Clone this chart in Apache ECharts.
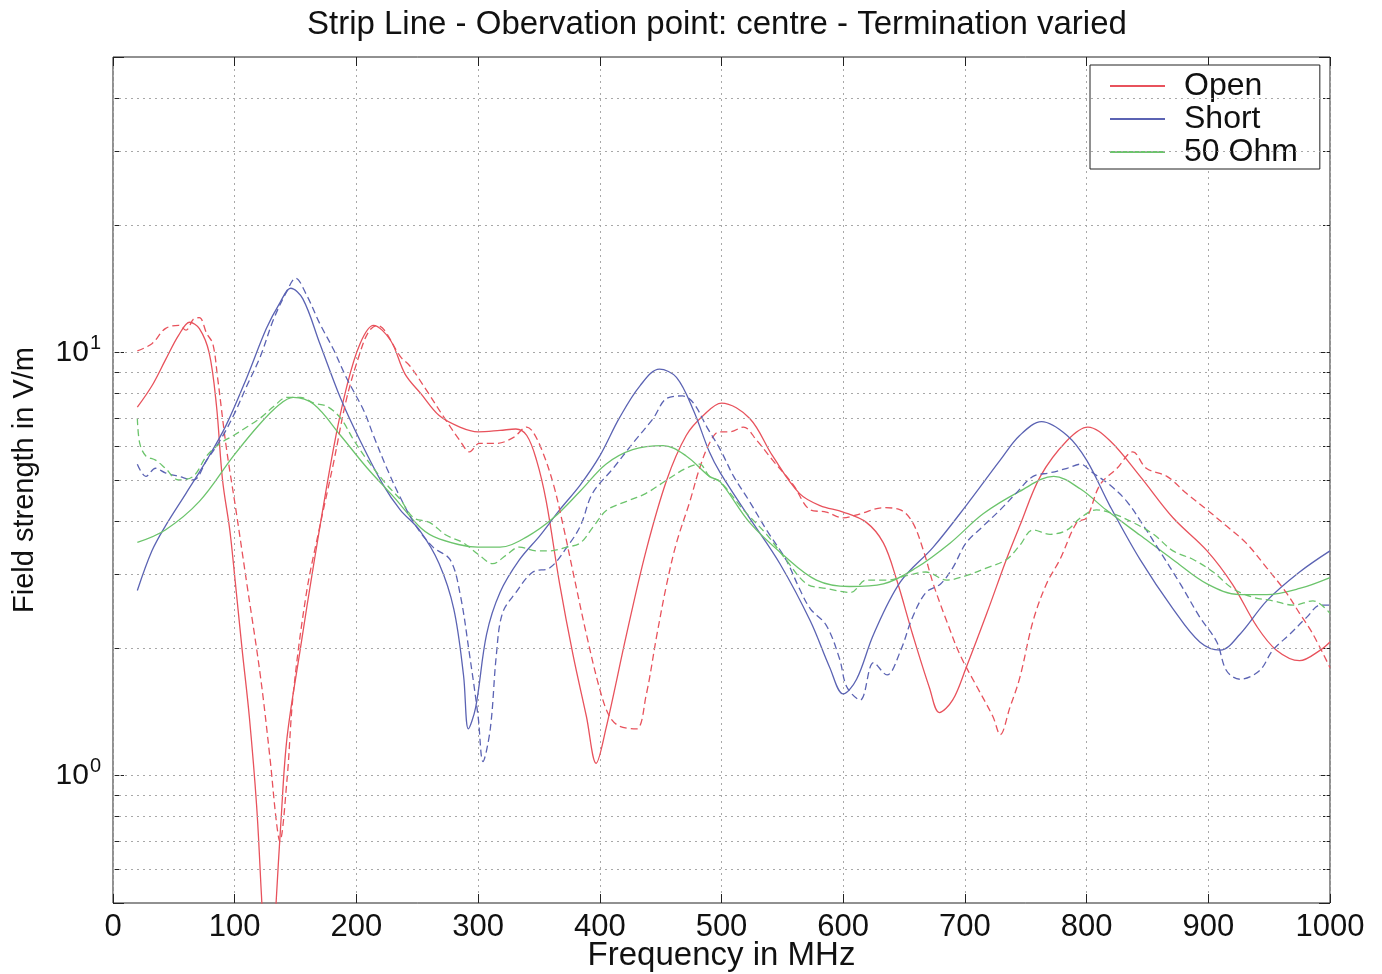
<!DOCTYPE html>
<html>
<head>
<meta charset="utf-8">
<script src="https://cdn.jsdelivr.net/npm/echarts@6/dist/echarts.min.js"></script>
<style>
  html, body { margin: 0; padding: 0; background: #fff; }
  #chart { width: 1382px; height: 974px; }
</style>
</head>
<body>
<div id="chart"></div>
<script>
// frequency (MHz), field strength (V/m)
const openSolid = [[20,7.43],[32,8.35],[43,9.6],[54,11.0],[63,11.8],[71,11.4],[79,10.0],[85,7.5],[90,5.0],[96,3.8],[100,2.96],[106,2.0],[112,1.38],[118,0.85],[122,0.52],[128,0.25],[134,0.5],[138,0.78],[143,1.23],[154,2.0],[165,3.17],[181,5.9],[192,8.3],[203,10.5],[214,11.6],[228,10.7],[240,8.9],[253,8.0],[268,7.1],[285,6.67],[300,6.5],[318,6.55],[331,6.6],[340,6.37],[348,5.57],[356,4.45],[367,2.84],[378,1.93],[389,1.38],[397,1.07],[405,1.29],[422,2.16],[438,3.4],[455,5.0],[471,6.37],[485,7.1],[500,7.6],[523,7.0],[542,5.7],[564,4.65],[581,4.35],[600,4.2],[619,3.97],[633,3.55],[644,2.9],[657,2.16],[671,1.61],[679,1.41],[690,1.51],[701,1.8],[718,2.42],[734,3.24],[745,3.89],[762,5.1],[784,6.2],[801,6.67],[819,6.2],[844,5.1],[871,4.07],[899,3.4],[920,2.83],[940,2.25],[956,1.98],[975,1.87],[992,1.98],[1000,2.07]];

const shortSolid = [[20,2.74],[32,3.4],[43,3.89],[60,4.65],[77,5.57],[93,6.74],[110,8.74],[126,11.4],[137,13.1],[146,14.2],[156,13.4],[170,10.5],[187,7.8],[203,6.2],[222,4.87],[236,4.25],[252,3.8],[268,3.17],[280,2.48],[288,1.73],[292,1.29],[298,1.45],[307,2.16],[318,2.71],[334,3.24],[351,3.7],[367,4.25],[384,4.87],[400,5.7],[416,7.0],[433,8.35],[449,9.14],[463,8.74],[477,7.3],[490,5.83],[499,5.2],[523,4.07],[548,3.17],[573,2.32],[589,1.8],[600,1.56],[611,1.69],[625,2.16],[647,2.87],[674,3.47],[701,4.35],[729,5.57],[745,6.37],[763,6.87],[784,6.37],[800,5.57],[819,4.35],[844,3.24],[871,2.48],[893,2.07],[910,1.98],[926,2.16],[948,2.59],[975,3.03],[1000,3.4]];

const ohmSolid = [[20,3.56],[43,3.81],[71,4.45],[99,5.7],[121,6.8],[137,7.55],[148,7.84],[165,7.55],[187,6.37],[209,5.33],[231,4.55],[253,3.85],[268,3.63],[300,3.47],[318,3.47],[340,3.67],[362,4.07],[384,4.71],[405,5.45],[427,5.9],[452,6.03],[471,5.7],[490,5.1],[499,4.95],[523,3.97],[551,3.32],[578,2.9],[605,2.8],[633,2.84],[660,3.1],[688,3.55],[715,4.16],[745,4.7],[773,5.1],[795,4.76],[816,4.25],[844,3.7],[871,3.24],[899,2.84],[926,2.68],[948,2.68],[975,2.77],[1000,2.94]];

const openDashed = [[20,10.1],[32,10.5],[43,11.4],[54,11.6],[60,11.3],[66,12.0],[71,12.1],[77,11.1],[82,10.5],[86,8.7],[93,6.0],[101,4.25],[110,2.84],[121,1.73],[129,1.1],[134,0.79],[137,0.7],[143,0.98],[148,1.55],[159,2.71],[170,3.89],[181,5.45],[192,7.8],[203,10.0],[210,11.2],[217,11.6],[223,11.3],[236,9.8],[244,9.3],[257,8.2],[271,7.1],[285,6.2],[293,5.83],[301,6.1],[315,6.1],[329,6.3],[340,6.67],[345,6.5],[353,5.83],[362,4.87],[370,3.89],[378,3.03],[389,2.16],[400,1.6],[408,1.38],[416,1.31],[430,1.29],[438,1.545],[447,2.16],[455,2.84],[463,3.55],[474,4.45],[482,5.33],[490,6.1],[498,6.5],[507,6.5],[518,6.67],[529,6.2],[542,5.57],[559,4.87],[573,4.25],[586,4.2],[600,4.07],[614,4.16],[633,4.3],[647,4.25],[657,3.97],[666,3.4],[674,2.84],[685,2.32],[696,1.93],[710,1.62],[723,1.38],[729,1.25],[737,1.45],[745,1.7],[756,2.32],[767,2.84],[778,3.24],[792,3.97],[800,4.07],[811,4.87],[825,5.33],[838,5.83],[849,5.33],[866,5.1],[882,4.65],[899,4.25],[915,3.89],[931,3.55],[948,3.1],[964,2.71],[975,2.42],[986,2.16],[1000,1.8]];

const shortDashed = [[20,5.45],[27,5.1],[35,5.33],[43,5.2],[54,5.1],[66,5.0],[77,5.57],[88,6.2],[99,7.1],[110,8.35],[121,9.78],[132,12.0],[143,14.0],[150,15.0],[159,13.7],[170,11.7],[181,10.2],[192,8.7],[206,7.3],[214,6.37],[225,5.33],[236,4.55],[249,3.89],[263,3.47],[277,3.24],[285,2.71],[293,1.93],[300,1.38],[304,1.08],[310,1.29],[315,1.93],[320,2.42],[331,2.71],[345,3.03],[359,3.1],[373,3.47],[384,3.89],[394,4.65],[411,5.33],[427,6.1],[444,7.0],[455,7.8],[468,7.9],[477,7.6],[488,6.67],[499,5.9],[510,5.1],[523,4.45],[537,3.81],[553,3.24],[564,2.77],[573,2.48],[586,2.27],[597,1.89],[603,1.62],[614,1.51],[625,1.85],[636,1.73],[647,1.97],[657,2.37],[668,2.71],[680,2.84],[690,3.1],[701,3.55],[715,3.89],[729,4.25],[742,4.65],[756,5.1],[770,5.2],[784,5.33],[795,5.45],[805,5.2],[819,4.87],[833,4.45],[847,3.89],[860,3.4],[877,2.84],[893,2.37],[907,2.07],[915,1.77],[926,1.69],[942,1.77],[953,1.98],[967,2.16],[981,2.37],[992,2.53],[1000,2.53]];

const ohmDashed = [[20,7.0],[22,6.1],[27,5.7],[35,5.57],[43,5.33],[54,5.0],[66,5.1],[77,5.7],[88,6.1],[99,6.37],[110,6.67],[121,7.0],[132,7.46],[143,7.84],[154,7.84],[165,7.6],[176,7.46],[187,7.0],[198,6.2],[209,5.57],[225,4.87],[236,4.5],[247,4.07],[260,3.97],[274,3.7],[288,3.55],[301,3.32],[312,3.17],[323,3.32],[334,3.47],[348,3.4],[359,3.4],[373,3.47],[384,3.55],[395,3.89],[406,4.25],[422,4.45],[438,4.65],[455,5.0],[471,5.33],[482,5.45],[490,5.1],[499,4.95],[518,4.25],[537,3.72],[553,3.24],[570,2.84],[586,2.77],[606,2.71],[619,2.9],[636,2.9],[652,2.97],[668,3.03],[685,2.9],[701,2.97],[718,3.1],[734,3.24],[745,3.5],[756,3.81],[770,3.72],[784,3.81],[795,4.07],[808,4.25],[822,4.16],[838,3.97],[855,3.72],[871,3.4],[888,3.24],[904,3.03],[920,2.77],[937,2.64],[953,2.59],[970,2.53],[986,2.59],[1000,2.42]];

const legendNames = ['Open', 'Short', '50 Ohm'];
const gridValues = [0.6, 0.7, 0.8, 0.9, 1, 2, 3, 4, 5, 6, 7, 8, 9, 10, 20, 30, 40];
const minorTickValues = [0.6, 0.7, 0.8, 0.9, 2, 3, 4, 5, 6, 7, 8, 9, 20, 30, 40];

const RED = '#e8525c';
const BLUE = '#5b63b3';
const GREEN = '#6cc46c';
const FONT = '"Liberation Sans", Arial, Helvetica, sans-serif';
const gridLineStyle = { color: '#a8a8a8', width: 1, type: [2, 4] };
const tickLine = { color: '#222' };

const chart = echarts.init(document.getElementById('chart'));

const lineSeries = (name, data, color, dashed) => ({
  name,
  type: 'line',
  data,
  xAxisIndex: 0,
  yAxisIndex: 0,
  showSymbol: false,
  smooth: 0.35,
  clip: true,
  lineStyle: { color, width: 1.3, type: dashed ? [7, 4] : 'solid' },
  itemStyle: { color },
  z: 3
});

const logAxis = (position, showLabel) => ({
  type: 'log',
  logBase: 10,
  min: 0.5,
  max: 50,
  position,
  axisLine: { show: false, onZero: false },
  axisTick: { show: true, inside: true, length: 11, lineStyle: tickLine },
  splitLine: { show: false },
  axisLabel: {
    show: showLabel,
    margin: 12,
    fontFamily: FONT,
    fontSize: 30,
    color: '#111',
    formatter: v => {
      const e = Math.log10(v);
      if (Math.abs(e - Math.round(e)) > 1e-6) return '';
      return '{b|10}{s|' + Math.round(e) + '}';
    },
    rich: {
      b: { fontFamily: FONT, fontSize: 30, color: '#111' },
      s: { fontFamily: FONT, fontSize: 20, color: '#111', padding: [0, 0, 18, 1] }
    }
  }
});

const minorTickAxis = position => ({
  type: 'value',
  min: Math.log10(0.5),
  max: Math.log10(50),
  position,
  axisLine: { show: false, onZero: false },
  axisLabel: { show: false },
  splitLine: { show: false },
  axisTick: {
    show: true,
    inside: true,
    length: 7,
    customValues: minorTickValues.map(v => Math.log10(v)),
    lineStyle: tickLine
  }
});

const freqAxis = (position, showLabel) => ({
  type: 'value',
  min: 0,
  max: 1000,
  interval: 100,
  position,
  axisLine: { show: false, onZero: false },
  axisTick: { show: true, inside: true, length: 9, lineStyle: tickLine },
  axisLabel: {
    show: showLabel,
    margin: 9,
    fontFamily: FONT,
    fontSize: 31,
    color: '#111',
    formatter: v => String(v)
  },
  splitLine: { show: showLabel, lineStyle: gridLineStyle }
});

const option = {
  animation: false,
  backgroundColor: '#fff',
  title: {
    text: 'Strip Line - Obervation point: centre - Termination varied',
    left: 302,
    top: 3,
    textStyle: { fontFamily: FONT, fontSize: 33, fontWeight: 'normal', color: '#111' }
  },
  legend: {
    data: legendNames,
    orient: 'vertical',
    left: 1090,
    top: 65,
    icon: 'rect',
    itemWidth: 55,
    itemHeight: 2,
    itemGap: 1,
    padding: [5, 22, 1, 20],
    backgroundColor: '#fff',
    borderColor: '#222',
    borderWidth: 1,
    borderRadius: 0,
    textStyle: { fontFamily: FONT, fontSize: 32, color: '#111', padding: [0, 0, 0, 14] }
  },
  grid: {
    left: 113,
    right: 52,
    top: 57,
    bottom: 71,
    outerBoundsMode: 'none',
    containLabel: false,
    show: true,
    borderColor: '#222',
    borderWidth: 1,
    backgroundColor: 'transparent'
  },
  xAxis: [
    Object.assign(freqAxis('bottom', true), {
      name: 'Frequency in MHz',
      nameLocation: 'middle',
      nameGap: 36,
      nameMoveOverlap: false,
      nameTextStyle: { fontFamily: FONT, fontSize: 33, color: '#111' }
    }),
    freqAxis('top', false)
  ],
  yAxis: [
    Object.assign(logAxis('left', true), {
      name: 'Field strength in V/m',
      nameLocation: 'middle',
      nameGap: 74,
      nameMoveOverlap: false,
      nameRotate: 90,
      nameTextStyle: { fontFamily: FONT, fontSize: 29, color: '#111' }
    }),
    logAxis('right', false),
    minorTickAxis('left'),
    minorTickAxis('right')
  ],
  series: [
    {
      name: 'grid',
      type: 'line',
      data: [],
      silent: true,
      markLine: {
        silent: true,
        symbol: 'none',
        label: { show: false },
        lineStyle: gridLineStyle,
        data: gridValues.map(v => ({ yAxis: v }))
      }
    },
    lineSeries('Open', openSolid, RED, false),
    lineSeries('Short', shortSolid, BLUE, false),
    lineSeries('50 Ohm', ohmSolid, GREEN, false),
    lineSeries('Open', openDashed, RED, true),
    lineSeries('Short', shortDashed, BLUE, true),
    lineSeries('50 Ohm', ohmDashed, GREEN, true)
  ]
};

chart.setOption(option);
window.addEventListener('resize', () => chart.resize());
</script>
</body>
</html>
